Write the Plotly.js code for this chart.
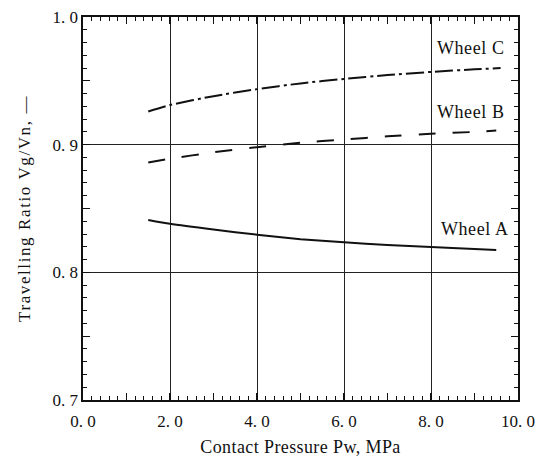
<!DOCTYPE html>
<html>
<head>
<meta charset="utf-8">
<script src="https://cdn.plot.ly/plotly-3.0.1.min.js"></script>
<style>
html,body{margin:0;padding:0;background:#fff;}
#chart{width:550px;height:457px;}
#chart .ytitle{letter-spacing:1.6px;}
#chart .xtitle{letter-spacing:0.4px;}
#chart .annotation-text{letter-spacing:0.6px;}
</style>
</head>
<body>
<div id="chart"></div>
<script>
// Data
var pressureA = [1.5, 2, 3, 4, 5, 6, 7, 8, 9, 9.5];
var wheelA    = [0.841, 0.838, 0.8335, 0.8295, 0.826, 0.8235, 0.8215, 0.8198, 0.8182, 0.8175];
var pressureB = [1.5, 2, 3, 4, 5, 6, 7, 8, 9, 9.5];
var wheelB    = [0.886, 0.889, 0.894, 0.898, 0.9015, 0.904, 0.9065, 0.9085, 0.910, 0.911];
var pressureC = [1.5, 2, 3, 4, 5, 6, 7, 8, 9, 9.6];
var wheelC    = [0.926, 0.931, 0.938, 0.9435, 0.948, 0.9515, 0.9545, 0.957, 0.959, 0.960];

var xTickVals = [0, 1, 2, 3, 4, 5, 6, 7, 8, 9, 10];
var xTickText = ['0. 0', '', '2. 0', '', '4. 0', '', '6. 0', '', '8. 0', '', '10. 0'];
var yTickVals = [0.7, 0.75, 0.8, 0.85, 0.9, 0.95, 1.0];
var yTickText = ['0. 7', '', '0. 8', '', '0. 9', '', '1. 0'];
var xGridVals = [2, 4, 6, 8];
var yGridVals = [0.8, 0.9];

var labelNames = ['Wheel A', 'Wheel B', 'Wheel C'];
var labelX = [8.99, 8.9, 8.9];
var labelY = [0.834, 0.9256, 0.9757];

var FONT = '"Liberation Serif", "Times New Roman", Times, serif';

var traces = [
  {x: pressureA, y: wheelA, mode: 'lines', line: {color: '#111', width: 2, shape: 'spline', smoothing: 0.6}, name: 'Wheel A'},
  {x: pressureB, y: wheelB, mode: 'lines', line: {color: '#111', width: 2, shape: 'spline', smoothing: 0.6, dash: '17px,17px'}, name: 'Wheel B'},
  {x: pressureC, y: wheelC, mode: 'lines', line: {color: '#111', width: 2, shape: 'spline', smoothing: 0.6, dash: '18px,4px,3px,4px'}, name: 'Wheel C'},
  {x: [0], y: [0.7], xaxis: 'x2', yaxis: 'y2', mode: 'markers', marker: {opacity: 0}, hoverinfo: 'skip', showlegend: false}
];

var annotations = labelNames.map(function (t, i) {
  return {x: labelX[i], y: labelY[i], xref: 'x', yref: 'y', text: t, showarrow: false,
          font: {family: FONT, size: 18, color: '#111'}};
});

var layout = {
  width: 550, height: 457,
  margin: {l: 83, r: 32, t: 17, b: 57},
  paper_bgcolor: '#fff', plot_bgcolor: '#fff',
  showlegend: false,
  font: {family: FONT, size: 17, color: '#111'},
  xaxis: {
    range: [0, 10], tickmode: 'array', tickvals: xTickVals, ticktext: xTickText,
    ticks: 'inside', ticklen: 7, tickwidth: 1.3, tickcolor: '#111',
    minor: {dtick: 0.2, ticks: 'inside', ticklen: 4, tickwidth: 1, tickcolor: '#111', showgrid: false},
    showgrid: false, zeroline: false, showline: true, linecolor: '#111', linewidth: 1.6, mirror: 'ticks',
    tickfont: {family: FONT, size: 17, color: '#111'}, ticklabelstandoff: 5,
    title: {text: 'Contact Pressure Pw, MPa', font: {family: FONT, size: 18, color: '#111'}, standoff: 13},
    automargin: false
  },
  yaxis: {
    range: [0.7, 1.0], tickmode: 'array', tickvals: yTickVals, ticktext: yTickText,
    ticks: 'inside', ticklen: 7, tickwidth: 1.3, tickcolor: '#111',
    minor: {dtick: 0.01, ticks: 'inside', ticklen: 4, tickwidth: 1, tickcolor: '#111', showgrid: false},
    showgrid: false, zeroline: false, showline: true, linecolor: '#111', linewidth: 1.6, mirror: 'ticks',
    tickfont: {family: FONT, size: 17, color: '#111'},
    title: {text: 'Travelling Ratio Vg/Vn, —', font: {family: FONT, size: 17, color: '#111'}, standoff: 17},
    automargin: false
  },
  xaxis2: {
    overlaying: 'x', anchor: 'y2', range: [0, 10], tickmode: 'array', tickvals: xGridVals,
    showticklabels: false, ticks: '', showgrid: true, gridcolor: '#222', gridwidth: 1,
    zeroline: false, showline: false
  },
  yaxis2: {
    overlaying: 'y', anchor: 'x2', range: [0.7, 1.0], tickmode: 'array', tickvals: yGridVals,
    showticklabels: false, ticks: '', showgrid: true, gridcolor: '#222', gridwidth: 1,
    zeroline: false, showline: false
  },
  annotations: annotations
};

Plotly.newPlot('chart', traces, layout, {displayModeBar: false, staticPlot: true});
</script>
</body>
</html>
